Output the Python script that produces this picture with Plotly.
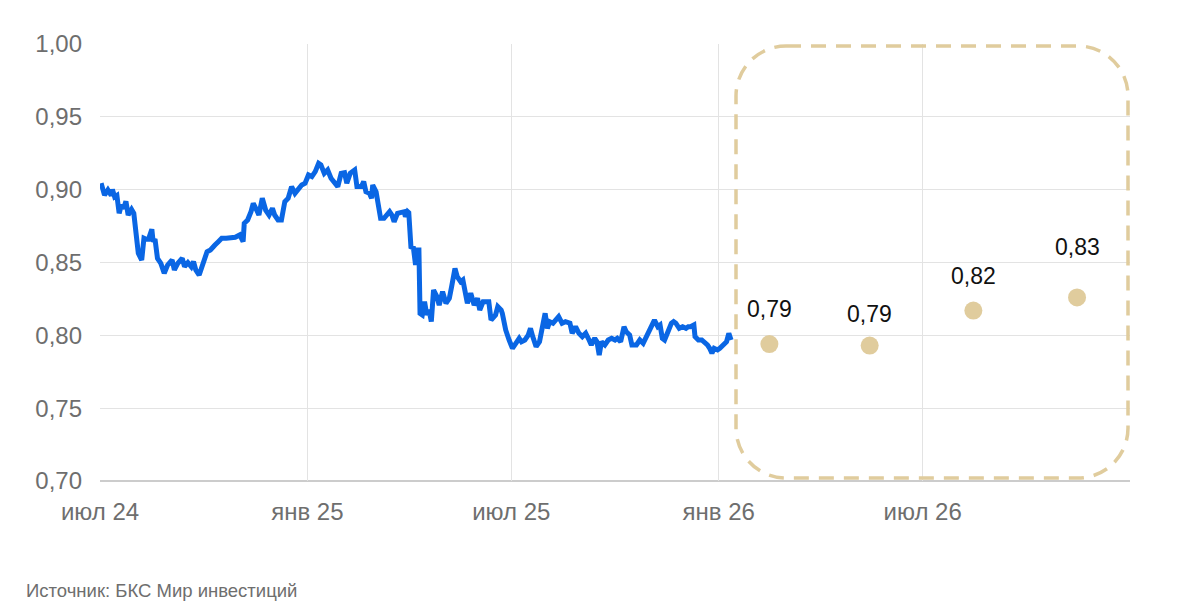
import plotly.graph_objects as go

# ---------------- DATA ----------------
hist_dates = [
    "2024-07-02","2024-07-05","2024-07-08","2024-07-11","2024-07-12","2024-07-14","2024-07-16","2024-07-18",
    "2024-07-20","2024-07-22","2024-07-24","2024-07-26","2024-07-29","2024-07-31","2024-08-02","2024-08-04",
    "2024-08-07","2024-08-09","2024-08-11","2024-08-13","2024-08-16","2024-08-17","2024-08-19","2024-08-21",
    "2024-08-24","2024-08-27","2024-08-30","2024-09-03","2024-09-05","2024-09-08","2024-09-12","2024-09-14",
    "2024-09-17","2024-09-20","2024-09-22","2024-09-24","2024-09-27","2024-09-29","2024-10-04","2024-10-07",
    "2024-10-09","2024-10-11","2024-10-14","2024-10-17","2024-10-21","2024-10-26","2024-10-29","2024-11-02",
    "2024-11-05","2024-11-06","2024-11-09","2024-11-12","2024-11-14","2024-11-17","2024-11-19","2024-11-22",
    "2024-11-25","2024-11-28","2024-12-01","2024-12-03","2024-12-06","2024-12-09","2024-12-12","2024-12-15",
    "2024-12-18","2024-12-21","2024-12-24","2024-12-27","2024-12-30","2025-01-02","2025-01-05","2025-01-08",
    "2025-01-11","2025-01-13","2025-01-16","2025-01-19","2025-01-22","2025-01-25","2025-01-28","2025-01-31",
    "2025-02-03","2025-02-05","2025-02-08","2025-02-12","2025-02-14","2025-02-18","2025-02-20","2025-02-22",
    "2025-02-25","2025-02-27","2025-02-28","2025-03-03","2025-03-05","2025-03-07","2025-03-10","2025-03-15",
    "2025-03-17","2025-03-19","2025-03-22","2025-03-25","2025-03-28","2025-03-29","2025-03-31","2025-04-01",
    "2025-04-03","2025-04-05","2025-04-07","2025-04-09","2025-04-10","2025-04-11","2025-04-13","2025-04-15",
    "2025-04-17","2025-04-19","2025-04-21","2025-04-23","2025-04-26","2025-04-28","2025-05-01","2025-05-04",
    "2025-05-07","2025-05-09","2025-05-12","2025-05-14","2025-05-17","2025-05-19","2025-05-21","2025-05-23",
    "2025-05-26","2025-05-29","2025-06-01","2025-06-03","2025-06-06","2025-06-09","2025-06-11","2025-06-13",
    "2025-06-17","2025-06-19","2025-06-22","2025-06-23","2025-06-26","2025-06-29","2025-07-02","2025-07-05",
    "2025-07-08","2025-07-10","2025-07-13","2025-07-16","2025-07-18","2025-07-20","2025-07-23","2025-07-26",
    "2025-07-29","2025-07-31","2025-08-02","2025-08-04","2025-08-07","2025-08-09","2025-08-12","2025-08-15",
    "2025-08-18","2025-08-22","2025-08-24","2025-08-27","2025-08-30","2025-09-02","2025-09-05","2025-09-08",
    "2025-09-10","2025-09-13","2025-09-15","2025-09-17","2025-09-19","2025-09-22","2025-09-25","2025-09-28",
    "2025-10-01","2025-10-03","2025-10-06","2025-10-09","2025-10-11","2025-10-14","2025-10-16","2025-10-20",
    "2025-10-23","2025-10-26","2025-10-29","2025-11-01","2025-11-03","2025-11-05","2025-11-08","2025-11-10",
    "2025-11-12","2025-11-14","2025-11-17","2025-11-20","2025-11-22","2025-11-24","2025-11-27","2025-11-30",
    "2025-12-03","2025-12-05","2025-12-07","2025-12-10","2025-12-11","2025-12-14","2025-12-17","2025-12-19",
    "2025-12-22","2025-12-24","2025-12-26","2025-12-28","2025-12-31","2026-01-02","2026-01-05","2026-01-08",
    "2026-01-10","2026-01-12",
]
hist_values = [
    0.9045,0.8963,0.8998,0.8960,0.9002,0.8950,0.8960,0.8838,
    0.8895,0.8870,0.8920,0.8826,0.8865,0.8838,0.8700,0.8563,
    0.8517,0.8666,0.8659,0.8659,0.8728,0.8654,0.8650,0.8529,
    0.8494,0.8426,0.8483,0.8517,0.8449,0.8494,0.8529,0.8471,
    0.8499,0.8471,0.8506,0.8449,0.8414,0.8460,0.8574,0.8586,
    0.8609,0.8620,0.8643,0.8666,0.8666,0.8673,0.8673,0.8689,
    0.8643,0.8769,0.8792,0.8849,0.8906,0.8860,0.8826,0.8941,
    0.8860,0.8826,0.8872,0.8826,0.8792,0.8792,0.8918,0.8941,
    0.9021,0.8975,0.9010,0.9032,0.9044,0.9101,0.9090,0.9124,
    0.9181,0.9170,0.9112,0.9135,0.9078,0.9055,0.9021,0.9112,
    0.9117,0.9044,0.9112,0.9135,0.9021,0.9021,0.9055,0.8986,
    0.8975,0.8941,0.9032,0.8986,0.8895,0.8803,0.8803,0.8849,
    0.8826,0.8780,0.8838,0.8842,0.8849,0.8815,0.8849,0.8842,
    0.8597,0.8609,0.8483,0.8586,0.8586,0.8151,0.8140,0.8231,
    0.8140,0.8174,0.8094,0.8311,0.8265,0.8208,0.8300,0.8220,
    0.8254,0.8334,0.8460,0.8403,0.8368,0.8380,0.8289,0.8220,
    0.8289,0.8208,0.8254,0.8174,0.8231,0.8231,0.8231,0.8105,
    0.8140,0.8197,0.8174,0.8151,0.8037,0.7968,0.7911,0.7945,
    0.7980,0.7956,0.7968,0.8002,0.8048,0.7991,0.7922,0.7956,
    0.8059,0.8151,0.8048,0.8094,0.8083,0.8105,0.8128,0.8083,
    0.8094,0.8083,0.8014,0.8059,0.8014,0.7991,0.8014,0.7968,
    0.7934,0.7980,0.7956,0.7865,0.7956,0.7934,0.7968,0.7980,
    0.7968,0.7980,0.7956,0.8059,0.8025,0.8002,0.7934,0.7934,
    0.7968,0.7945,0.7991,0.8037,0.8059,0.8105,0.8059,0.8071,
    0.7980,0.7968,0.8025,0.8083,0.8094,0.8083,0.8048,0.8059,
    0.8048,0.8059,0.8059,0.8071,0.7991,0.7968,0.7968,0.7956,
    0.7934,0.7911,0.7877,0.7911,0.7900,0.7911,0.7934,0.7956,
    0.8014,0.7968,
]

forecast_dates = ["2026-02-15", "2026-05-15", "2026-08-15", "2026-11-15"]
forecast_values = [0.794, 0.793, 0.817, 0.826]

x_tick_vals = ["2024-07-01", "2025-01-01", "2025-07-01", "2026-01-01", "2026-07-01"]
x_tick_text = ["июл 24", "янв 25", "июл 25", "янв 26", "июл 26"]
y_tick_vals = [0.70, 0.75, 0.80, 0.85, 0.90, 0.95, 1.00]

source_text = "Источник: БКС Мир инвестиций"

# ---------------- STYLE ----------------
FONT = "Liberation Sans, Arial, sans-serif"
BLUE = "#0a66e4"
BEIGE = "#e0cc9d"
GRID = "#e3e3e3"
TICK_COLOR = "#6e6e6e"
label_yshift = [35, 32, 35, 50]

fig = go.Figure()

fig.add_trace(go.Scatter(
    x=hist_dates, y=hist_values, mode="lines",
    line=dict(color=BLUE, width=5, shape="linear"),
    hoverinfo="skip", showlegend=False,
))

fig.add_trace(go.Scatter(
    x=forecast_dates, y=forecast_values, mode="markers",
    marker=dict(color=BEIGE, size=18, line=dict(width=0)),
    hoverinfo="skip", showlegend=False,
))

for d, v, ys in zip(forecast_dates, forecast_values, label_yshift):
    fig.add_annotation(
        x=d, y=v, text=f"{v:.2f}".replace(".", ","), showarrow=False,
        yshift=ys, font=dict(family=FONT, size=23, color="#111111"),
    )

# dashed rounded rectangle (paper coordinates, corner radius in pixels)
L, R, T, B = 100, 1130, 44, 481
W, H = R - L, B - T
px0, px1, py0, py1 = 736, 1128, 46, 478
rad = 50
def fx(p):
    return (p - L) / W
def fy(p):
    return (B - p) / H
k = 0.5523
x0, x1, y0, y1 = fx(px0), fx(px1), fy(py1), fy(py0)
rx, ry = rad / W, rad / H
path = (
    f"M {x0+rx},{y1} L {x1-rx},{y1} "
    f"C {x1-rx+k*rx},{y1} {x1},{y1-ry+k*ry} {x1},{y1-ry} "
    f"L {x1},{y0+ry} "
    f"C {x1},{y0+ry-k*ry} {x1-rx+k*rx},{y0} {x1-rx},{y0} "
    f"L {x0+rx},{y0} "
    f"C {x0+rx-k*rx},{y0} {x0},{y0+ry-k*ry} {x0},{y0+ry} "
    f"L {x0},{y1-ry} "
    f"C {x0},{y1-ry+k*ry} {x0+rx-k*rx},{y1} {x0+rx},{y1} Z"
)
fig.add_shape(type="path", path=path, xref="paper", yref="paper",
              line=dict(color=BEIGE, width=3.5, dash="15px,10px"),
              fillcolor="rgba(0,0,0,0)", layer="above")

fig.add_annotation(
    x=0, y=0, xref="paper", yref="paper", xanchor="left", yanchor="bottom",
    text=source_text, showarrow=False,
    xshift=-76, yshift=-122,
    font=dict(family=FONT, size=18.5, color="#6e6e6e"),
)

fig.update_layout(
    width=1200, height=605,
    margin=dict(l=L, r=1200 - R, t=T, b=605 - B),
    paper_bgcolor="white", plot_bgcolor="white",
    separators=", ",
    font=dict(family=FONT, size=22, color=TICK_COLOR),
    showlegend=False,
)

fig.update_xaxes(
    type="date", range=["2024-07-01", "2027-01-01"],
    tickvals=x_tick_vals, ticktext=x_tick_text,
    showgrid=True, gridcolor=GRID, gridwidth=1,
    showline=False, zeroline=False, ticks="",
    tickfont=dict(family=FONT, size=24, color=TICK_COLOR),
    ticklabelstandoff=14,
)
fig.update_yaxes(
    range=[0.70, 1.00], tickvals=y_tick_vals, tickformat=".2f",
    showgrid=True, gridcolor=GRID, gridwidth=1,
    showline=False, zeroline=False, ticks="",
    tickfont=dict(family=FONT, size=24, color=TICK_COLOR),
    ticklabelstandoff=17,
)

# bottom axis line
fig.add_shape(type="line", xref="paper", yref="paper", x0=0, x1=1, y0=0, y1=0,
              line=dict(color="#cccccc", width=2), layer="below")

fig.write_html(
    "out.html",
    config={"displayModeBar": False},
    post_script="document.body.style.margin='0';document.body.style.padding='0';",
)
